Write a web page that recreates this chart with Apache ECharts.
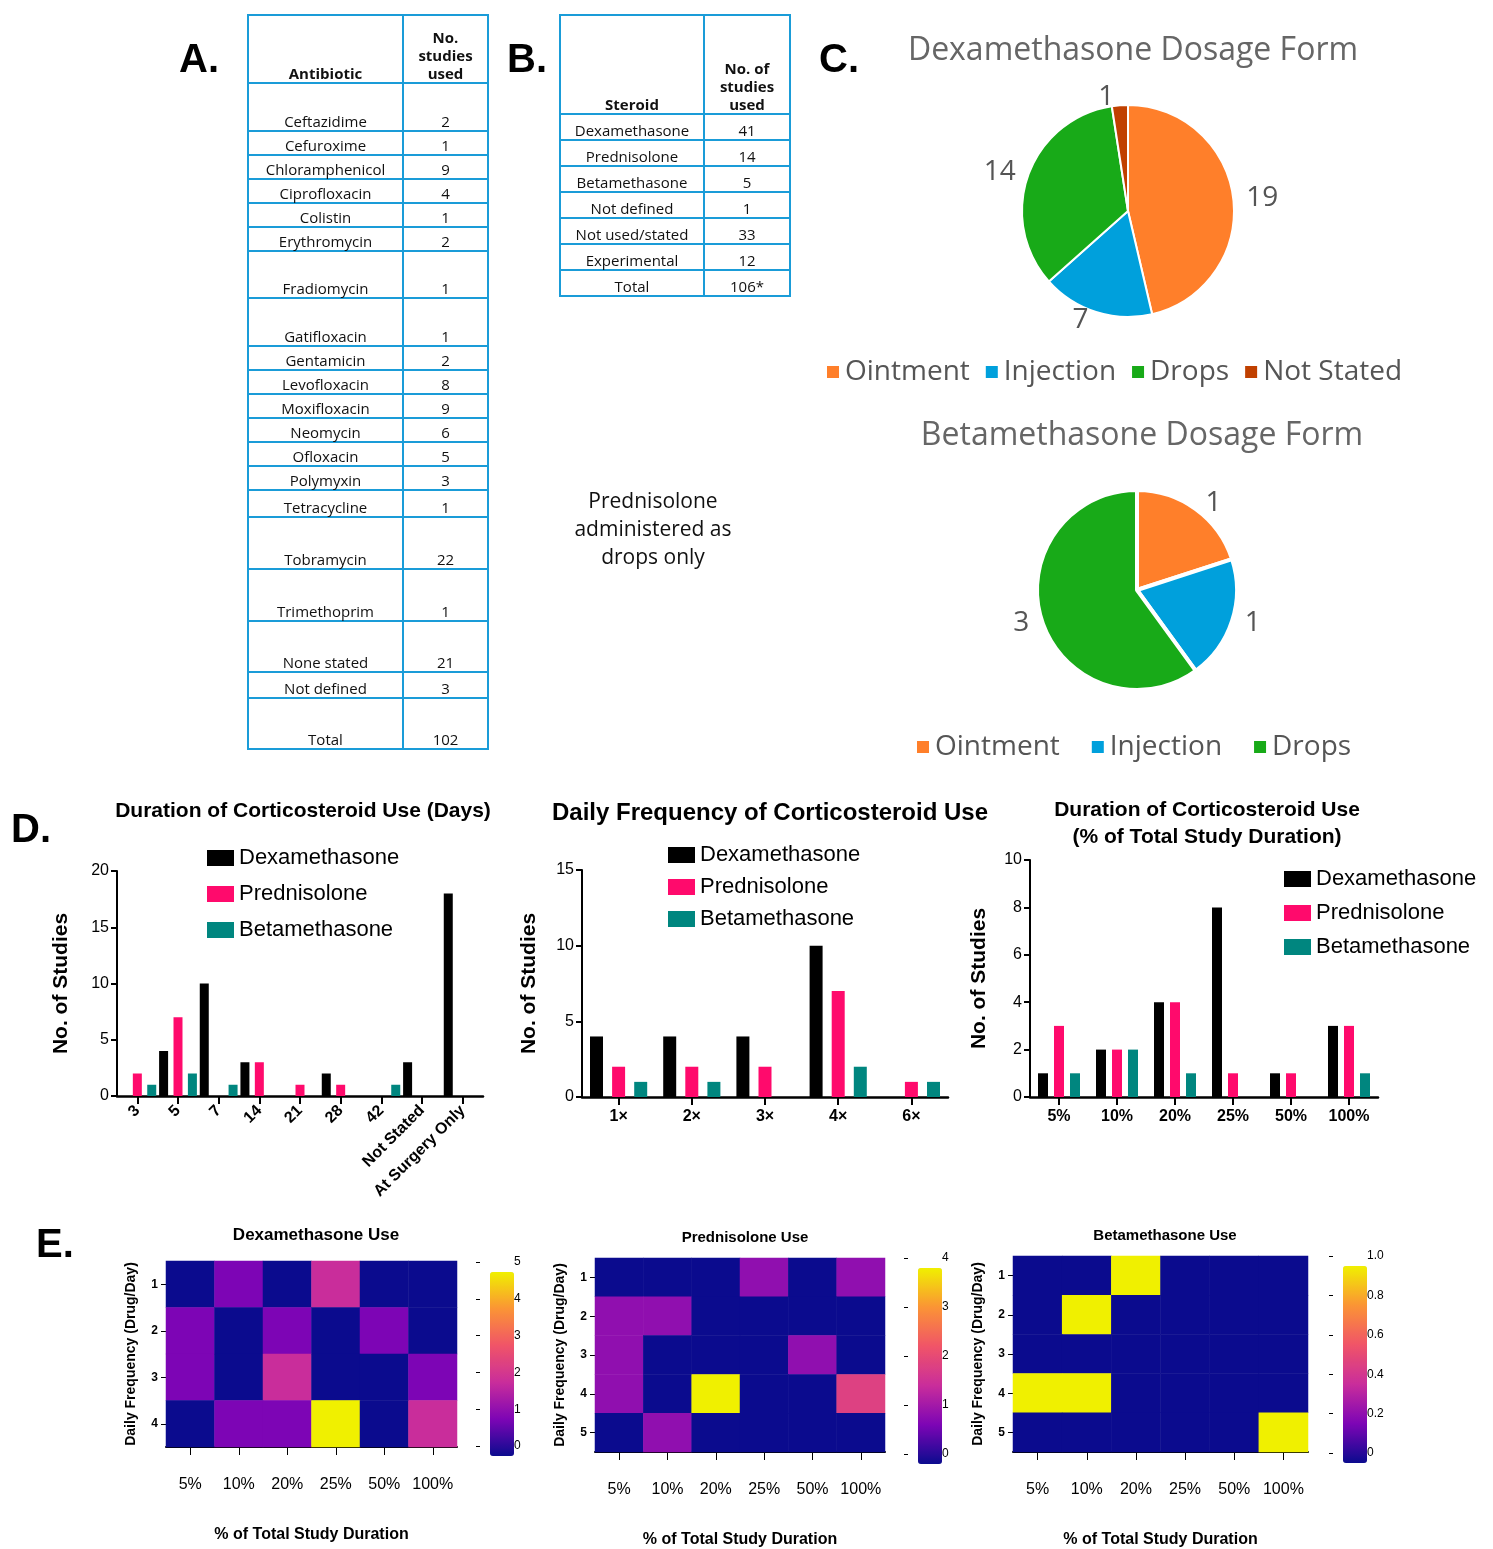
<!DOCTYPE html>
<html><head><meta charset="utf-8">
<script src="https://cdn.jsdelivr.net/npm/echarts@6/dist/echarts.min.js"></script>
<style>
body{margin:0;background:#fff;}
#wrap{position:relative;width:1493px;height:1549px;}
#main{position:absolute;left:0;top:0;width:1493px;height:1549px;}
.tb{position:absolute;border-collapse:collapse;font-family:"Open Sans",sans-serif;font-size:15px;color:#111;}
.tb td{border:2px solid #1a9cd8;text-align:center;vertical-align:bottom;padding:0 2px;line-height:18px;}
.lt{position:absolute;font-family:"Liberation Sans",Arial,sans-serif;font-weight:bold;font-size:40px;color:#000;}
#pred{position:absolute;left:553px;top:486px;width:200px;text-align:center;font-family:"Open Sans",sans-serif;font-size:21px;line-height:28px;color:#111;}
</style></head>
<body><div id="wrap"><div id="main"></div>
<div class="lt" style="left:179px;top:36px">A.</div>
<div class="lt" style="left:507px;top:36px">B.</div>
<div class="lt" style="left:819px;top:36px">C.</div>
<div class="lt" style="left:11px;top:806px">D.</div>
<div class="lt" style="left:36px;top:1221px">E.</div>
<div id="pred">Prednisolone administered as drops only</div>
</div>
<script>
// ---- data ----
var antibiotics = ['Ceftazidime','Cefuroxime','Chloramphenicol','Ciprofloxacin','Colistin','Erythromycin','Fradiomycin','Gatifloxacin','Gentamicin','Levofloxacin','Moxifloxacin','Neomycin','Ofloxacin','Polymyxin','Tetracycline','Tobramycin','Trimethoprim','None stated','Not defined','Total'];
var antibioticCounts = ['2','1','9','4','1','2','1','1','2','8','9','6','5','3','1','22','1','21','3','102'];
var antibioticRowH = [48,24,24,24,24,24,47,48,24,24,24,24,24,24,27,52,52,51,26,51];
var steroids = ['Dexamethasone','Prednisolone','Betamethasone','Not defined','Not used/stated','Experimental','Total'];
var steroidCounts = ['41','14','5','1','33','12','106*'];

var formNames = ['Ointment','Injection','Drops','Not Stated'];
var dexForms = [19, 7, 14, 1];
var betaForms = [1, 1, 3];

var drugs = ['Dexamethasone','Prednisolone','Betamethasone'];
var durDays = ['3','5','7','14','21','28','42','Not Stated','At Surgery Only'];
var durDex = [0,4,10,3,0,2,0,3,18];
var durPred = [2,7,0,3,1,1,0,0,0];
var durBeta = [1,2,1,0,0,0,1,0,0];
var freqCats = ['1×','2×','3×','4×','6×'];
var freqDex = [4,4,4,10,0];
var freqPred = [2,2,2,7,1];
var freqBeta = [1,1,0,2,1];
var pctCats = ['5%','10%','20%','25%','50%','100%'];
var pctDex = [1,2,4,8,1,3];
var pctPred = [3,2,4,1,1,3];
var pctBeta = [1,2,1,0,0,1];

// heatmap rows = daily frequency, cols = % of duration
var heatDex = [[0,1,0,2,0,0],[1,0,1,0,1,0],[1,0,2,0,0,1],[0,1,1,5,0,2]];
var heatPred = [[0,0,0,1,0,1],[1,1,0,0,0,0],[1,0,0,0,1,0],[1,0,4,0,0,2],[0,1,0,0,0,0]];
var heatBeta = [[0,0,1,0,0,0],[0,1,0,0,0,0],[0,0,0,0,0,0],[1,1,0,0,0,0],[0,0,0,0,0,1]];

// ---- tables ----
function addTable(left, top, widths, header, rows, heights, headH){
  var t = document.createElement('table'); t.className='tb';
  t.style.left = left+'px'; t.style.top = top+'px';
  var h = '<tr style="height:'+headH+'px"><td style="width:'+widths[0]+'px;font-weight:bold">'+header[0]+'</td><td style="width:'+widths[1]+'px;font-weight:bold">'+header[1]+'</td></tr>';
  rows.forEach(function(r,i){ h += '<tr style="height:'+heights[i]+'px"><td>'+r[0]+'</td><td>'+r[1]+'</td></tr>'; });
  t.innerHTML = h; document.getElementById('wrap').appendChild(t);
}
addTable(247,14,[149,79],['Antibiotic','No.<br>studies<br>used'],antibiotics.map(function(a,i){return [a,antibioticCounts[i]];}),antibioticRowH,68);
addTable(559,14,[138,80],['Steroid','No. of<br>studies<br>used'],steroids.map(function(a,i){return [a,steroidCounts[i]];}),steroids.map(function(){return 26;}),99);

// ---- chart ----
var chart = echarts.init(document.getElementById('main'));
var FF = '"Liberation Sans", Arial, sans-serif';
var barColors = ['#000000','#ff0a6c','#00867f'];
var pieColors = ['#ff7f2a','#00a0dc','#18aa18','#c04000'];
var heatColors = ['#0b0b8e','#7d05b5','#c92d9b','#f05468','#fb9435','#f0f000'];

var grids = [
  {left:117, top:871, width:366, height:225},
  {left:582, top:870, width:366, height:227},
  {left:1030, top:860, width:348, height:237},
  {left:166, top:1261, width:291, height:186},
  {left:595, top:1258, width:290, height:196},
  {left:1013, top:1256, width:295, height:197},
  {left:480, top:1262, width:24, height:184},
  {left:908, top:1258, width:24, height:196},
  {left:1333, top:1256, width:24, height:197}
];
var axLine = {lineStyle:{color:'#000', width:2.5}};
var xAxes = [], yAxes = [], series = [];
function barAxes(gi, cats, max, interval, rotate, ysize){
  xAxes.push({type:'category', gridIndex:gi, data:cats, axisLine:axLine, axisTick:{show:true, alignWithLabel:true, length:8, lineStyle:{width:2,color:'#000'}},
    axisLabel:{color:'#000', fontFamily:FF, fontWeight:'bold', fontSize:16, rotate:rotate, interval:0, margin:12}});
  yAxes.push({type:'value', gridIndex:gi, min:0, max:max, interval:interval, splitLine:{show:false}, axisLine:{show:true, lineStyle:{color:'#000',width:2}},
    axisTick:{show:true, length:6, lineStyle:{color:'#000', width:2}}, axisLabel:{color:'#000', fontFamily:FF, fontSize:16},
    name:'No. of Studies', nameLocation:'middle', nameGap:ysize, nameTextStyle:{fontFamily:FF, fontWeight:'bold', fontSize:21, color:'#000'}});
}
barAxes(0, durDays, 20, 5, 45, 45);
barAxes(1, freqCats, 15, 5, 0, 42);
barAxes(2, pctCats, 10, 2, 0, 40);
var barSets = [[durDex,durPred,durBeta,9,'60%'],[freqDex,freqPred,freqBeta,13,'70%'],[pctDex,pctPred,pctBeta,10,'60%']];
barSets.forEach(function(s,gi){
  [0,1,2].forEach(function(k){
    series.push({type:'bar', name:drugs[k], xAxisIndex:gi, yAxisIndex:gi, data:s[k], barWidth:s[3], barGap:s[4], itemStyle:{color:barColors[k]}});
  });
});

function heatAxes(gi, rows){
  xAxes.push({type:'category', gridIndex:gi, data:pctCats, axisLine:{lineStyle:{color:'#000',width:2}}, splitArea:{show:false},
    axisTick:{show:true, alignWithLabel:true, length:8, lineStyle:{color:'#000'}}, axisLabel:{color:'#000', fontFamily:FF, fontSize:16, margin:30, interval:0},
    name:'% of Total Study Duration', nameLocation:'middle', nameGap:80, nameTextStyle:{fontFamily:FF, fontWeight:'bold', fontSize:16, color:'#000'}});
  var yc = []; for (var i=1;i<=rows;i++) yc.push(String(i));
  yAxes.push({type:'category', gridIndex:gi, data:yc, inverse:true, axisLine:{show:false}, axisTick:{show:true, alignWithLabel:true, lineStyle:{color:'#000'}},
    axisLabel:{color:'#000', fontFamily:FF, fontWeight:'bold', fontSize:12},
    name:'Daily Frequency (Drug/Day)', nameLocation:'middle', nameGap:28, nameTextStyle:{fontFamily:FF, fontWeight:'bold', fontSize:14, color:'#000'}});
}
var heats = [heatDex, heatPred, heatBeta];
var heatMax = [5, 4, 1];
heats.forEach(function(h,k){
  var gi = 3+k; heatAxes(gi, h.length);
  var d = [];
  h.forEach(function(row,r){ row.forEach(function(v,c){ d.push([c,r,v]); }); });
  series.push({type:'heatmap', xAxisIndex:gi, yAxisIndex:gi, data:d});
});
// colorbar tick axes
var cbInt = [1,1,0.2];
[0,1,2].forEach(function(k){
  var gi = 6+k;
  xAxes.push({type:'value', gridIndex:gi, show:false, min:0, max:1});
  yAxes.push({type:'value', gridIndex:gi, position:'right', min:0, max:heatMax[k], interval:cbInt[k], splitLine:{show:false},
    axisLine:{show:false}, axisTick:{show:true, inside:true, length:4, lineStyle:{color:'#000'}},
    axisLabel:{color:'#000', fontFamily:FF, fontSize:12, margin:10, formatter:function(v){ return k===2 ? (v===0?'0':v.toFixed(1)) : v; }}});
});
var vms = [0,1,2].map(function(k){
  var g = grids[6+k];
  return {type:'continuous', min:0, max:heatMax[k], seriesIndex:9+k, calculable:false, text:null, showLabel:false,
    left:g.left-5, top:g.top-5, itemWidth:g.width, itemHeight:g.height, inRange:{color:heatColors}, textStyle:{fontSize:0},
    handleStyle:{opacity:0}, indicatorStyle:{opacity:0}};
});

series.push({type:'pie', center:[1128,211], radius:[0,106], startAngle:90, clockwise:true,
  data:formNames.map(function(n,i){return {name:n, value:dexForms[i]};}),
  itemStyle:{borderColor:'#fff', borderWidth:2}, color:pieColors,
  label:{show:true, position:'outside', formatter:'{c}', fontSize:28, color:'#555', fontFamily:'"Open Sans",sans-serif'},
  labelLine:{show:false, length:8, length2:0}});
series.push({type:'pie', center:[1137,590], radius:[0,100], startAngle:90, clockwise:true,
  data:formNames.slice(0,3).map(function(n,i){return {name:n, value:betaForms[i]};}),
  itemStyle:{borderColor:'#fff', borderWidth:4}, color:pieColors,
  label:{show:true, position:'outside', formatter:'{c}', fontSize:28, color:'#555', fontFamily:'"Open Sans",sans-serif'},
  labelLine:{show:false, length:8, length2:0}});

function barLegend(left, top, gap){
  return {left:left, top:top, orient:'vertical', itemGap:gap, itemWidth:27, itemHeight:16, icon:'rect', data:drugs, selectedMode:false,
    textStyle:{fontFamily:FF, fontSize:22, color:'#000'}};
}
var titles = [
  {text:'Dexamethasone Dosage Form', left:1128, top:30, textAlign:'center', textStyle:{fontFamily:'"Open Sans",sans-serif', fontWeight:'normal', fontSize:32, color:'#666'}},
  {text:'Betamethasone Dosage Form', left:1137, top:415, textAlign:'center', textStyle:{fontFamily:'"Open Sans",sans-serif', fontWeight:'normal', fontSize:32, color:'#666'}},
  {text:'Duration of Corticosteroid Use (Days)', left:298, top:796, textAlign:'center', textStyle:{fontFamily:FF, fontSize:21, color:'#000'}},
  {text:'Daily Frequency of Corticosteroid Use', left:765, top:796, textAlign:'center', textStyle:{fontFamily:FF, fontSize:24, color:'#000'}},
  {text:'Duration of Corticosteroid Use\n(% of Total Study Duration)', left:1202, top:792, textAlign:'center', textStyle:{fontFamily:FF, fontSize:21, lineHeight:27, color:'#000'}},
  {text:'Dexamethasone Use', left:311, top:1222, textAlign:'center', textStyle:{fontFamily:FF, fontSize:17, color:'#000'}},
  {text:'Prednisolone Use', left:740, top:1225, textAlign:'center', textStyle:{fontFamily:FF, fontSize:15, color:'#000'}},
  {text:'Betamethasone Use', left:1160, top:1223, textAlign:'center', textStyle:{fontFamily:FF, fontSize:15, color:'#000'}}
];
chart.setOption({
  animation:false,
  title:titles,
  grid:grids,
  xAxis:xAxes,
  yAxis:yAxes,
  visualMap:vms,
  legend:[
    barLegend(202,842,14), barLegend(663,839,10), barLegend(1279,863,12),
    {seriesIndex:12, left:'center', data:formNames, left:820, top:353, itemWidth:14, itemHeight:14, icon:'rect', itemGap:14, selectedMode:false,
      textStyle:{fontFamily:'"Open Sans",sans-serif', fontSize:28, color:'#555'}},
    {data:formNames.slice(0,3), left:910, top:728, itemWidth:14, itemHeight:14, icon:'rect', itemGap:30, selectedMode:false,
      textStyle:{fontFamily:'"Open Sans",sans-serif', fontSize:28, color:'#555'}}
  ],
  series:series
});
</script></body></html>
